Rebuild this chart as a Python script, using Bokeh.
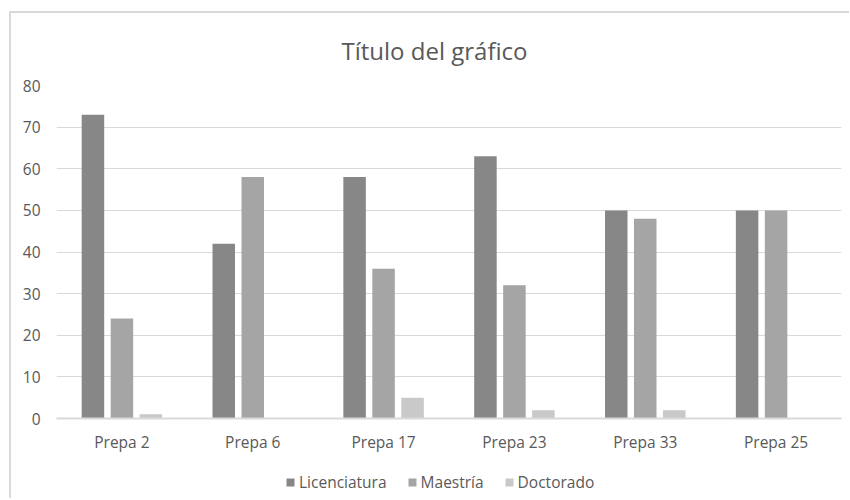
from bokeh.plotting import figure
from bokeh.models import FactorRange, Range1d, Legend, LegendItem, ColumnDataSource
from bokeh.layouts import column
from bokeh.transform import dodge
from bokeh.embed import file_html
from bokeh.resources import INLINE

categories = ["Prepa 2", "Prepa 6", "Prepa 17", "Prepa 23", "Prepa 33", "Prepa 25"]
licenciatura = [73, 42, 58, 63, 50, 50]
maestria = [24, 58, 36, 32, 48, 50]
doctorado = [1, 0, 5, 2, 2, 0]
series_names = ["Licenciatura", "Maestría", "Doctorado"]
y_ticks = [0, 10, 20, 30, 40, 50, 60, 70, 80]

colors = ["#878787", "#a5a5a5", "#c9c9c9"]
TEXT = "#595959"
FONT = "Open Sans"

source = ColumnDataSource(dict(cat=categories, lic=licenciatura, mae=maestria, doc=doctorado))

p = figure(x_range=FactorRange(*categories, range_padding=0), y_range=Range1d(0, 80),
           frame_width=785, frame_height=333, output_backend="svg", toolbar_location=None,
           min_border_left=45, min_border_right=8, min_border_top=72, min_border_bottom=44,
           title="Título del gráfico")

p.title.align = "left"
p.title.text_font = FONT
p.title.text_font_size = "24px"
p.title.text_font_style = "normal"
p.title.text_color = TEXT
p.title.standoff = 37
p.title.offset = 285

off = 0.2215
w = 0.172
r1 = p.vbar(x=dodge("cat", -off, range=p.x_range), top="lic", width=w, source=source,
            color=colors[0], line_color=None)
r2 = p.vbar(x=dodge("cat", 0, range=p.x_range), top="mae", width=w, source=source,
            color=colors[1], line_color=None)
r3 = p.vbar(x=dodge("cat", off, range=p.x_range), top="doc", width=w, source=source,
            color=colors[2], line_color=None)

p.outline_line_color = None
p.xgrid.grid_line_color = None
p.ygrid.grid_line_color = "#d9d9d9"
p.ygrid.grid_line_width = 1
p.yaxis.ticker = y_ticks
p.yaxis.axis_line_color = None
p.yaxis.major_tick_line_color = None
p.yaxis.minor_tick_line_color = None
p.yaxis.major_label_text_font = FONT
p.yaxis.major_label_text_font_size = "15.5px"
p.yaxis.major_label_text_color = TEXT
p.yaxis.major_label_standoff = 10

p.xaxis.axis_line_color = "#d9d9d9"
p.xaxis.axis_line_width = 2
p.xaxis.major_tick_line_color = None
p.xaxis.minor_tick_line_color = None
p.xaxis.major_label_text_font = FONT
p.xaxis.major_label_text_font_size = "15.5px"
p.xaxis.major_label_text_color = TEXT
p.xaxis.major_label_standoff = 6

# legend strip below the chart (swatch renderers hold no visible data)
lg = figure(width=838, height=36, min_border=0, output_backend="svg", toolbar_location=None,
            x_range=Range1d(0, 1), y_range=Range1d(0, 1))
lg.axis.visible = False
lg.grid.grid_line_color = None
lg.outline_line_color = None
empty = ColumnDataSource(dict(x=[float("nan")], top=[float("nan")]))
swatches = [lg.vbar(x="x", top="top", width=0.1, source=empty, color=c, line_color=None)
            for c in colors]

legend = Legend(items=[LegendItem(label=n, renderers=[r]) for n, r in zip(series_names, swatches)],
                orientation="horizontal", location=(229, 5),
                glyph_width=10, glyph_height=10, label_standoff=4, spacing=20,
                label_text_font=FONT, label_text_font_size="15.5px", label_text_color=TEXT,
                border_line_color=None, background_fill_alpha=0, padding=0, margin=0)
lg.add_layout(legend, "center")

layout = column(p, lg, spacing=0,
                styles={"margin-left": "9px", "margin-top": "11px",
                        "border-left": "2px solid #d9d9d9", "border-top": "2px solid #d9d9d9"})

open("out.html", "w").write(file_html(layout, INLINE))
